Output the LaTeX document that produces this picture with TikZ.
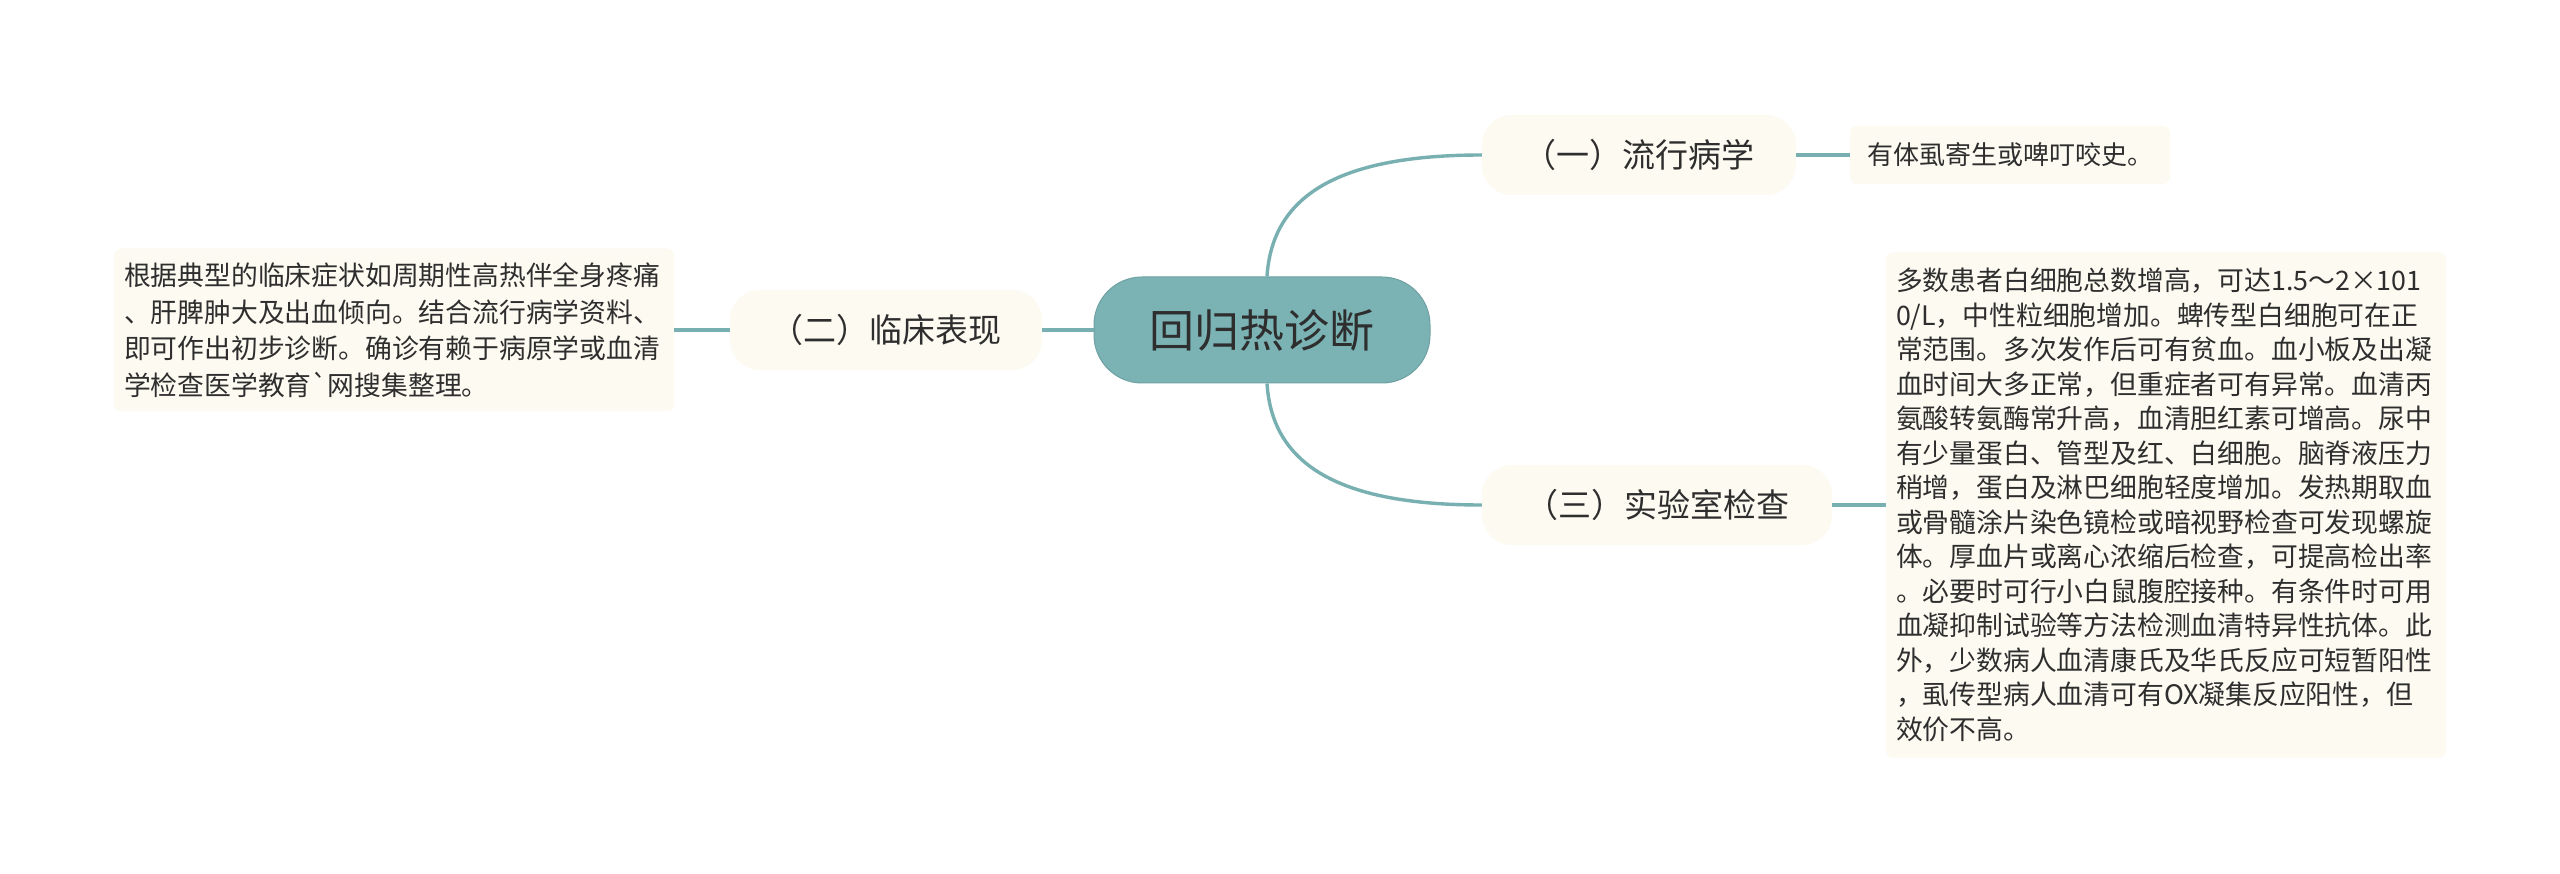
\documentclass[tikz,border=0pt]{standalone}
\usepackage{fontspec}
\setmainfont{Noto Sans CJK SC}
\definecolor{tealc}{HTML}{7BB3B5}
\definecolor{linec}{HTML}{78AFB1}
\definecolor{cream}{HTML}{FCFAF1}
\definecolor{txt}{HTML}{2E2E2E}
\begin{document}
\begin{tikzpicture}[x=1pt,y=-1pt,
  central/.style={draw=tealc!90!black, line width=1pt, fill=tealc, rounded corners=48pt, minimum width=336pt, minimum height=106pt, inner sep=0pt, text=txt, font=\fontsize{45}{54}\selectfont},
  branch/.style={fill=cream, rounded corners=30pt, minimum height=80pt, inner sep=0pt, text=txt, font=\fontsize{33}{40}\selectfont},
  leaf/.style={fill=cream, rounded corners=7pt, inner xsep=10pt, inner ysep=0pt, text=txt, align=left, font=\fontsize{26.8}{34.5}\selectfont},
  conn/.style={draw=linec, line width=3.4pt}
]
\useasboundingbox[fill=white] (0,0) rectangle (2560,874);

\node[central] (c) at (1262,330) {回归热诊断};
\node[branch, minimum width=314pt] (b1) at (1639,155) {（一）流行病学};
\node[branch, minimum width=312pt] (b2) at (886,330) {（二）临床表现};
\node[branch, minimum width=350pt] (b3) at (1657,505) {（三）实验室检查};

\node[leaf, minimum width=320pt, minimum height=58pt, font=\fontsize{26}{32}\selectfont] (l1) at (2010,155) {有体虱寄生或啤叮咬史。};

\node[leaf, text width=540pt, minimum height=163pt, font=\fontsize{26.8}{36.5}\selectfont] (l2) at (394,330) {根据典型的临床症状如周期性高热伴全身疼痛\\、肝脾肿大及出血倾向。结合流行病学资料、\\即可作出初步诊断。确诊有赖于病原学或血清\\学检查医学教育\textasciigrave 网搜集整理。};

\node[leaf, text width=540pt, minimum height=505pt] (l3) at (2166,505) {多数患者白细胞总数增高，可达1.5～2×101\\0/L，中性粒细胞增加。蜱传型白细胞可在正\\常范围。多次发作后可有贫血。血小板及出凝\\血时间大多正常，但重症者可有异常。血清丙\\氨酸转氨酶常升高，血清胆红素可增高。尿中\\有少量蛋白、管型及红、白细胞。脑脊液压力\\稍增，蛋白及淋巴细胞轻度增加。发热期取血\\或骨髓涂片染色镜检或暗视野检查可发现螺旋\\体。厚血片或离心浓缩后检查，可提高检出率\\。必要时可行小白鼠腹腔接种。有条件时可用\\血凝抑制试验等方法检测血清特异性抗体。此\\外，少数病人血清康氏及华氏反应可短暂阳性\\，虱传型病人血清可有OX凝集反应阳性，但\\效价不高。};

\draw[conn] ([xshift=5pt]c.north) .. controls +(5,-77) and +(-150,0) .. (b1.west);
\draw[conn] ([xshift=5pt]c.south) .. controls +(5,77) and +(-150,0) .. (b3.west);
\draw[conn] (c.west) -- (b2.east);
\draw[conn] (b2.west) -- (l2.east);
\draw[conn] (b1.east) -- (l1.west);
\draw[conn] (b3.east) -- (l3.west);
\end{tikzpicture}
\end{document}
